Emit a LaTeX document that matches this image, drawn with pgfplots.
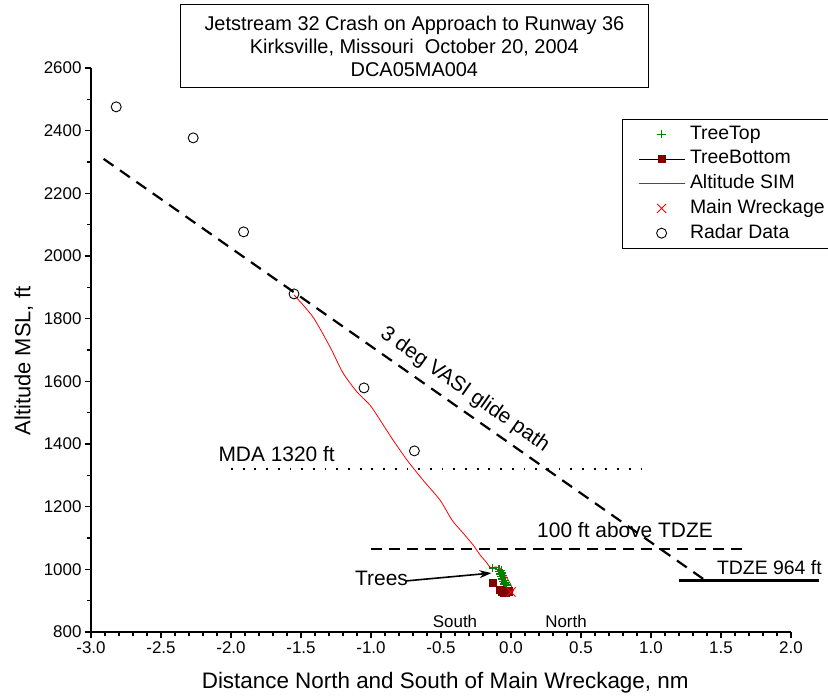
\documentclass[border=0pt]{standalone}
\usepackage{fontspec}
\setmainfont{Liberation Sans}
\usepackage{pgfplots}
\pgfplotsset{compat=1.18}
\usetikzlibrary{arrows.meta}
\definecolor{treegreen}{RGB}{0,128,0}
\definecolor{treered}{RGB}{128,0,0}
\begin{document}
\begin{tikzpicture}
\useasboundingbox (-91bp,-66bp) rectangle (737bp,632bp);
\begin{axis}[
  at={(0,0)}, anchor=south west,
  scale only axis, width=700bp, height=564bp,
  xmin=-3, xmax=2, ymin=800, ymax=2600,
  axis x line=bottom, axis y line=left,
  axis line style={-, line width=1.4bp},
  xtick={-3,-2.5,-2,-1.5,-1,-0.5,0,0.5,1,1.5,2},
  minor x tick num=4,
  ytick={800,1000,1200,1400,1600,1800,2000,2200,2400,2600},
  minor y tick num=1,
  tick align=outside,
  major tick length=6bp, minor tick length=3.5bp,
  tick style={black, line width=1.2bp},
  tick label style={font=\fontsize{17}{20}\selectfont},
  /pgf/number format/assume math mode=true,
  xticklabel style={/pgf/number format/.cd, fixed, fixed zerofill, precision=1},
  yticklabel style={/pgf/number format/.cd, fixed, 1000 sep={}},
  clip=false,
  legend cell align=left,
  legend style={at={(0.7586,0.9096)}, anchor=north west, draw=black,
    font=\fontsize{19.5}{24}\selectfont,
    inner xsep=16bp, inner ysep=5bp, row sep=4.75bp, column sep=5bp,
    nodes={inner sep=0pt, text height=15bp, text depth=5bp}},
  legend image code/.code={\draw[mark repeat=2,mark phase=2,#1] plot coordinates {(0bp,0bp) (23bp,0bp) (46bp,0bp)};},
]
% reference lines
\addplot[black, line width=2.2bp, dash pattern=on 12bp off 8bp, forget plot] coordinates {(-2.91,2310) (1.39,964)};
\addplot[black, line width=2bp, dash pattern=on 11bp off 7bp, forget plot] coordinates {(-1.0,1064) (1.7,1064)};
\addplot[black, line width=1.8bp, dash pattern=on 1.8bp off 9.9bp, forget plot] coordinates {(-2.0,1320) (0.97,1320)};
\addplot[black, line width=3bp, forget plot] coordinates {(1.2,964) (2.2,964)};

\addplot[only marks, mark=+, mark size=4.2bp, treegreen, mark options={line width=1.3bp}] coordinates {
(-0.13,1004) (-0.085,1000) (-0.070,996) (-0.082,992) (-0.064,988) (-0.076,985) (-0.058,981)
(-0.070,977) (-0.051,973) (-0.063,969) (-0.044,965) (-0.056,961) (-0.038,957) (-0.046,953) (-0.030,950)};
\addlegendentry{TreeTop}
\addplot[black, line width=0.6bp, mark=square*, mark size=3.6bp, mark options={fill=treered, draw=treered}] coordinates {
(-0.13,956) (-0.08,935) (-0.065,928) (-0.05,925) (-0.035,925) (-0.02,930)};
\addlegendentry{TreeBottom}
\addplot[red, line width=0.8bp, smooth, tension=0.4] coordinates {
(-1.55,1876) (-1.414,1805) (-1.293,1710) (-1.2,1627) (-1.1,1566) (-1.007,1524) (-0.936,1477)
(-0.843,1413) (-0.743,1349) (-0.629,1285) (-0.507,1221) (-0.421,1157) (-0.343,1116) (-0.271,1078)
(-0.221,1046) (-0.171,1020) (-0.15,1007) (-0.1,1007) (-0.064,998) (-0.043,982) (-0.007,956) (0.02,930)};
\addlegendentry{Altitude SIM}
\addplot[only marks, mark=x, mark size=6.5bp, red, mark options={line width=0.9bp}] coordinates {(0,928)};
\addlegendentry{Main Wreckage}
\addplot[only marks, mark=o, mark size=5bp, black, mark options={line width=0.9bp}] coordinates {
(-2.82,2476) (-2.27,2377) (-1.91,2077) (-1.55,1879) (-1.05,1579) (-0.69,1378)};
\addlegendentry{Radar Data}

% title box
\node[draw=black, line width=0.8bp, minimum width=468bp, minimum height=83bp, align=center,
  font=\fontsize{20}{23}\selectfont] at (axis cs:-0.69,2669)
  {Jetstream 32 Crash on Approach to Runway 36\\Kirksville, Missouri\ \ October 20, 2004\\DCA05MA004};
% annotations
\begin{scope}[every node/.style={inner sep=0pt, font=\fontsize{21}{25}\selectfont}]
\node[anchor=base east] at (axis cs:-1.257,1343) {MDA 1320 ft};
\node[anchor=base west] at (axis cs:0.186,1103) {100 ft above TDZE};
\node[anchor=base west, font=\fontsize{19.5}{23}\selectfont] at (axis cs:1.47,982) {TDZE 964 ft};
\node[rotate=-35] at (axis cs:-0.33,1572) {3 deg VASI glide path};
\node[anchor=base west] at (axis cs:-1.114,947) {Trees};
\end{scope}
\draw[-{Stealth[length=12bp,width=8bp]}, line width=1.6bp] (axis cs:-0.75,963) -- (axis cs:-0.14,988);
\node[anchor=base, inner sep=0pt, font=\fontsize{17}{20}\selectfont] at (axis cs:-0.4,813) {South};
\node[anchor=base, inner sep=0pt, font=\fontsize{17}{20}\selectfont] at (axis cs:0.393,813) {North};
% axis labels
\node[rotate=90, inner sep=0pt, font=\fontsize{22}{26}\selectfont] at (axis cs:-3.48,1665) {Altitude MSL, ft};
\node[anchor=base, inner sep=0pt, font=\fontsize{22.5}{26}\selectfont] at (axis cs:-0.47,621) {Distance North and South of Main Wreckage, nm};
\end{axis}
\end{tikzpicture}
\end{document}
